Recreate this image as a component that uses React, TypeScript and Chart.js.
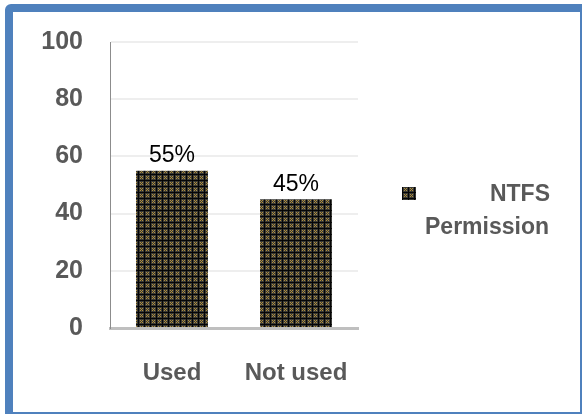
import React, { useEffect, useRef } from "react";
import { Chart, registerables } from "chart.js";

Chart.register(...registerables);

const categories = ["Used", "Not used"];
const values = [55, 45];
const dataLabels = ["55%", "45%"];
const seriesName = ["NTFS", "Permission"];
const yTicks = [0, 20, 40, 60, 80, 100];

const FONT = "'Liberation Sans', Arial, sans-serif";

function makePattern(): CanvasPattern | string {
  const c = document.createElement("canvas");
  c.width = 6;
  c.height = 6;
  const g = c.getContext("2d");
  if (!g) return "#4a4530";
  g.fillStyle = "#3a3a36";
  g.fillRect(0, 0, 6, 6);
  g.fillStyle = "#050505";
  g.fillRect(0, 0, 6, 1);
  g.fillRect(0, 0, 1, 6);
  g.fillStyle = "#b08e3c";
  [[2, 2], [4, 2], [3, 3], [2, 4], [4, 4]].forEach(([x, y]) => g.fillRect(x, y, 1, 1));
  const p = g.createPattern(c, "repeat");
  return p || "#4a4530";
}

export default function App() {
  const ref = useRef<HTMLCanvasElement>(null);
  useEffect(() => {
    if (!ref.current) return;
    const pattern = makePattern();
    const labelPlugin = {
      id: "labels",
      afterDatasetsDraw(chart: any) {
        const ctx = chart.ctx;
        const meta = chart.getDatasetMeta(0);
        ctx.save();
        ctx.fillStyle = "#000";
        ctx.font = `23px ${FONT}`;
        ctx.textAlign = "center";
        ctx.textBaseline = "middle";
        meta.data.forEach((el: any, i: number) => {
          ctx.fillText(dataLabels[i], el.x, el.y - 15);
        });
        ctx.restore();
      },
      afterDraw(chart: any) {
        const ctx = chart.ctx;
        ctx.save();
        ctx.fillStyle = pattern as any;
        ctx.fillRect(402, 187, 14, 13);
        ctx.fillStyle = "#595959";
        ctx.font = `bold 23px ${FONT}`;
        ctx.textBaseline = "middle";
        ctx.textAlign = "right";
        ctx.fillText(seriesName[0], 550, 195);
        ctx.textAlign = "center";
        ctx.fillText(seriesName[1], 487, 228);
        ctx.restore();
      },
    };
    const chart = new Chart(ref.current, {
      type: "bar",
      data: {
        labels: categories,
        datasets: [
          {
            label: seriesName.join(" "),
            data: values,
            backgroundColor: pattern as any,
            categoryPercentage: 1,
            barPercentage: 0.58,
          },
        ],
      },
      options: {
        responsive: false,
        animation: false,
        layout: { padding: { left: 0, top: 37, right: 224, bottom: 0 } },
        plugins: { legend: { display: false }, tooltip: { enabled: false } },
        scales: {
          x: {
            grid: { display: false, drawTicks: false },
            border: { color: "#bfbfbf", width: 3 },
            ticks: {
              color: "#595959",
              font: { family: FONT, size: 24, weight: "bold" },
              padding: 31,
              maxRotation: 0,
              minRotation: 0,
              autoSkip: false,
            },
            afterFit(scale: any) {
              scale.height = 86;
            },
          },
          y: {
            min: 0,
            max: 100,
            afterBuildTicks(scale: any) {
              scale.ticks = yTicks.map((v) => ({ value: v }));
            },
            grid: { color: "#eeeeee", lineWidth: 2, drawTicks: false },
            border: { color: "#8c8c8c", width: 1 },
            ticks: {
              color: "#595959",
              font: { family: FONT, size: 25, weight: "bold" },
              padding: 27,
            },
            afterFit(scale: any) {
              scale.width = 110;
            },
          },
        },
      },
      plugins: [labelPlugin],
    });
    return () => chart.destroy();
  }, []);
  return (
    <div style={{ position: "fixed", left: 0, top: 0, width: 582, height: 414, background: "#fff" }}>
      <div
        style={{
          position: "absolute",
          left: 5,
          top: 4,
          width: 577 - 10,
          height: 410 - 10,
          borderStyle: "solid",
          borderColor: "#4f81bd",
          borderLeftWidth: 8,
          borderTopWidth: 8,
          borderRightWidth: 2,
          borderBottomWidth: 2,
          borderTopLeftRadius: 6,
        }}
      />
      <canvas ref={ref} width={582} height={414} style={{ position: "absolute", left: 0, top: 0 }} />
    </div>
  );
}
